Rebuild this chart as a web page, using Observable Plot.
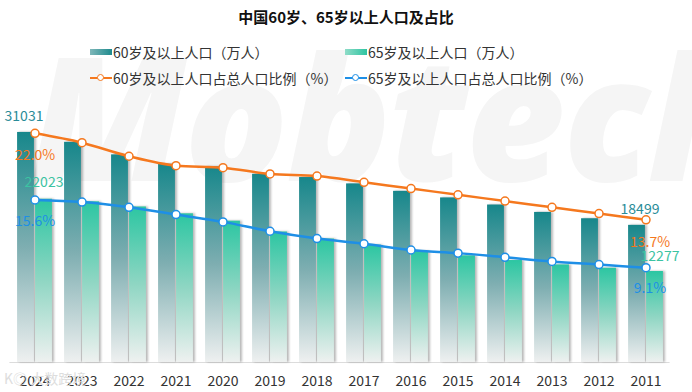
<!DOCTYPE html>
<html><head><meta charset="utf-8">
<script src="https://cdn.jsdelivr.net/npm/d3@7"></script>
<script src="https://cdn.jsdelivr.net/npm/@observablehq/plot@0.6"></script>
<style>
body{margin:0;background:#fff;font-family:"Noto Sans CJK SC","Noto Sans",sans-serif;color:#333;width:692px;height:392px;overflow:hidden;position:relative}
#wm{position:absolute;left:30px;top:28px;font:italic 900 172px "Noto Sans","DejaVu Sans",sans-serif;color:#f5f5f5;white-space:nowrap;letter-spacing:-2px;z-index:0;line-height:1}
#title{position:relative;z-index:1;height:34px;line-height:34px;text-align:center;font-weight:bold;font-size:15px;color:#111}
#legend{position:relative;z-index:1;height:60px;box-sizing:border-box;padding-top:5px}
.row{height:26px;position:relative;font-size:14px}
.item{position:absolute;top:0;height:26px;display:flex;align-items:center}
.sw{width:22px;height:6px;margin-right:1px}
.ln{width:22px;height:2.5px;margin-right:1px;position:relative}
.ln i{position:absolute;left:7px;top:-3px;width:5px;height:5px;border-radius:50%;background:#fff;border:1.5px solid}
#chart{position:relative;z-index:1}
#logo{position:absolute;left:4px;top:368px;font-size:14px;color:#ddd;z-index:2}
</style></head>
<body>
<div id="wm">Mobtech</div>
<div id="title">中国60岁、65岁以上人口及占比</div>
<div id="legend">
 <div class="row">
  <div class="item" style="left:90px"><span class="sw" style="background:linear-gradient(90deg,#7fb7b9,#1d8a8d)"></span>60岁及以上人口（万人）</div>
  <div class="item" style="left:345px"><span class="sw" style="background:linear-gradient(90deg,#8fdcc8,#2ec4a1)"></span>65岁及以上人口（万人）</div>
 </div>
 <div class="row">
  <div class="item" style="left:90px"><span class="ln" style="background:#f5781e"><i style="border-color:#f5781e"></i></span>60岁及以上人口占总人口比例（%）</div>
  <div class="item" style="left:345px"><span class="ln" style="background:#1e8fe6"><i style="border-color:#1e8fe6"></i></span>65岁及以上人口占总人口比例（%）</div>
 </div>
</div>
<div id="chart"></div>
<div id="logo">K◎ 大数跨境</div>
<script>
const years = ["2024","2023","2022","2021","2020","2019","2018","2017","2016","2015","2014","2013","2012","2011"];
const pop60 = [31031,29697,28004,26736,26402,25388,24949,24090,23086,22200,21242,20243,19390,18499];
const pop65 = [22023,21676,20978,20056,19064,17603,16658,15831,15003,14386,13755,13161,12714,12277];
const pct60 = [22.0,21.1,19.8,18.9,18.7,18.1,17.9,17.3,16.7,16.1,15.5,14.9,14.3,13.7];
const pct65 = [15.6,15.4,14.9,14.2,13.5,12.6,11.9,11.4,10.8,10.5,10.1,9.7,9.4,9.1];

const K = 1405; // percent-to-bar-axis factor (both series share the baseline)
const data = years.map((y,i)=>({year:y,p60:pop60[i],p65:pop65[i],r60:pct60[i],r65:pct65[i]}));
const first = data.filter(d=>d.year===years[0]);
const last = data.filter(d=>d.year===years[years.length-1]);

const BW = 47.15, half = BW/2, bw = 17;
const orange="#f5781e", blue="#1e8fe6";

const chart = Plot.plot({
  width:692, height:298,
  marginLeft:9.4, marginRight:22.4, marginTop:10, marginBottom:30,
  style:{fontFamily:'"Noto Sans CJK SC","Noto Sans",sans-serif', fontSize:"14px", color:"#333", background:"transparent", overflow:"visible"},
  x:{domain:years, type:"band", padding:0, label:null, tickSize:0, tickPadding:14},
  y:{domain:[0,34800], axis:null},
  marks:[
    Plot.ruleY([0],{stroke:"#dcdcdc"}),
    Plot.barY(data,{x:"year", y:"p60", fill:"url(#g60)", insetLeft:half-bw-0.5, insetRight:half+0.5, className:"bars"}),
    Plot.barY(data,{x:"year", y:"p65", fill:"url(#g65)", insetLeft:half+0.5, insetRight:half-bw-0.5, className:"bars"}),
    Plot.line(data,{x:"year", y:d=>d.r60*K, stroke:orange, strokeWidth:2.5, curve:"monotone-x"}),
    Plot.line(data,{x:"year", y:d=>d.r65*K, stroke:blue, strokeWidth:2.5, curve:"monotone-x"}),
    Plot.dot(data,{x:"year", y:d=>d.r60*K, r:4, fill:"#fff", stroke:orange, strokeWidth:1.5}),
    Plot.dot(data,{x:"year", y:d=>d.r65*K, r:4, fill:"#fff", stroke:blue, strokeWidth:1.5}),
    Plot.text(first,{x:"year", y:"p60", text:d=>String(d.p60), dx:-11, dy:-16, fill:"#2a8c98", fontSize:14}),
    Plot.text(first,{x:"year", y:"p65", text:d=>String(d.p65), dx:9, dy:-17, fill:"#3cc3a2", fontSize:14}),
    Plot.text(first,{x:"year", y:d=>d.r60*K, text:d=>d.r60.toFixed(1)+"%", dy:22, fill:orange, fontSize:14}),
    Plot.text(first,{x:"year", y:d=>d.r65*K, text:d=>d.r65.toFixed(1)+"%", dy:22, fill:blue, fontSize:14}),
    Plot.text(last,{x:"year", y:"p60", text:d=>String(d.p60), dx:-6, dy:-16, fill:"#2a8c98", fontSize:14}),
    Plot.text(last,{x:"year", y:d=>d.r60*K, text:d=>d.r60.toFixed(1)+"%", dx:4, dy:23, fill:orange, fontSize:14}),
    Plot.text(last,{x:"year", y:"p65", text:d=>String(d.p65), dx:14, dy:-15, fill:"#3cc3a2", fontSize:14}),
    Plot.text(last,{x:"year", y:d=>d.r65*K, text:d=>d.r65.toFixed(1)+"%", dx:4, dy:21, fill:blue, fontSize:14})
  ]
});
const ns="http://www.w3.org/2000/svg";
const defs=document.createElementNS(ns,"defs");
defs.innerHTML=`<linearGradient id="g60" x1="0" y1="0" x2="0" y2="1"><stop offset="0" stop-color="#17878b"/><stop offset="0.5" stop-color="#7eaeb1"/><stop offset="1" stop-color="#eef0f0"/></linearGradient>
<linearGradient id="g65" x1="0" y1="0" x2="0" y2="1"><stop offset="0" stop-color="#2cc6a2"/><stop offset="0.5" stop-color="#8fd6c3"/><stop offset="1" stop-color="#eef1f0"/></linearGradient>`;
chart.insertBefore(defs, chart.firstChild);
chart.querySelectorAll("g.bars").forEach(g=>g.setAttribute("style","filter:drop-shadow(2px 0px 1px rgba(0,0,0,0.28))"));
chart.querySelectorAll('g[aria-label="x-axis tick label"] text').forEach(t=>t.setAttribute("fill","#333"));
document.getElementById("chart").appendChild(chart);
</script>
</body></html>
